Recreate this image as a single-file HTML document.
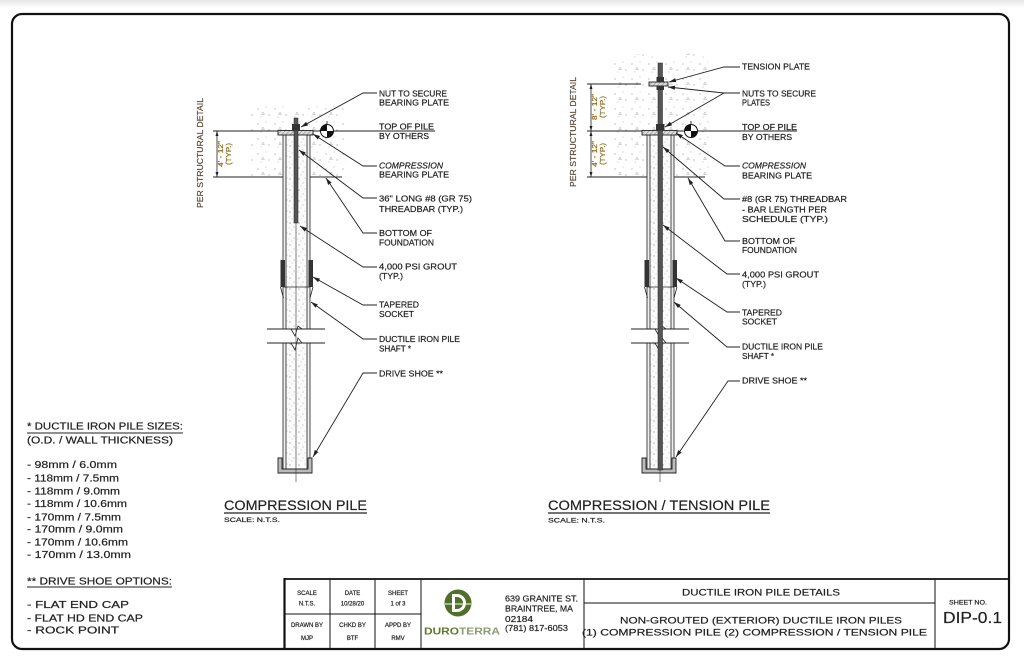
<!DOCTYPE html>
<html>
<head>
<meta charset="utf-8">
<style>
html,body{margin:0;padding:0;background:#fff;}
svg{display:block;}
text{font-family:"Liberation Sans",sans-serif;fill:#222;stroke:#222;stroke-width:0.2;}
</style>
</head>
<body>
<svg width="1024" height="663" viewBox="0 0 1024 663" xmlns="http://www.w3.org/2000/svg">
<defs>
  <linearGradient id="topg" x1="0" y1="0" x2="0" y2="1">
    <stop offset="0" stop-color="#e6e6e6"/>
    <stop offset="1" stop-color="#ffffff"/>
  </linearGradient>
  <pattern id="grout" width="9" height="11" patternUnits="userSpaceOnUse">
    <rect width="9" height="11" fill="#fbfbfb"/>
    <circle cx="2" cy="3" r="0.6" fill="#888"/>
    <circle cx="6" cy="7" r="0.55" fill="#999"/>
    <circle cx="4" cy="10" r="0.45" fill="#aaa"/>
    <circle cx="8" cy="2" r="0.45" fill="#aaa"/>
    <circle cx="1" cy="8" r="0.4" fill="#999"/>
  </pattern>
  <pattern id="conc" width="17" height="15" patternUnits="userSpaceOnUse">
    <circle cx="3" cy="4" r="0.6" fill="#999"/>
    <circle cx="11" cy="2" r="0.5" fill="#aaa"/>
    <circle cx="14" cy="10" r="0.6" fill="#999"/>
    <circle cx="6" cy="12" r="0.5" fill="#aaa"/>
    <path d="M8 7 l1.5 2.5 h-3z" fill="none" stroke="#aaa" stroke-width="0.5"/>
  </pattern>
  <pattern id="hatch" width="3" height="3" patternUnits="userSpaceOnUse" patternTransform="rotate(45)">
    <rect width="3" height="3" fill="#ddd"/>
    <line x1="0" y1="0" x2="0" y2="3" stroke="#666" stroke-width="0.8"/>
  </pattern>
  <marker id="ar" viewBox="0 0 10 10" refX="10" refY="5" markerWidth="7" markerHeight="7" orient="auto" markerUnits="userSpaceOnUse">
    <path d="M0,2 L10,5 L0,8z" fill="#222"/>
  </marker>
  <marker id="dt" viewBox="0 0 10 10" refX="10" refY="5" markerWidth="5" markerHeight="5" orient="auto-start-reverse" markerUnits="userSpaceOnUse">
    <path d="M0,2 L10,5 L0,8z" fill="#222"/>
  </marker>

  <g id="pile">
    <rect x="286" y="135" width="21" height="194" fill="url(#grout)"/>
    <rect x="286" y="343" width="21" height="126" fill="url(#grout)"/>
    <rect x="283" y="135" width="3" height="194" fill="#eee" stroke="#222" stroke-width="0.8"/>
    <rect x="307" y="135" width="3" height="194" fill="#eee" stroke="#222" stroke-width="0.8"/>
    <rect x="283" y="343" width="3" height="126" fill="#eee" stroke="#222" stroke-width="0.8"/>
    <rect x="307" y="343" width="3" height="126" fill="#eee" stroke="#222" stroke-width="0.8"/>
    <rect x="280.5" y="260" width="4.5" height="27" fill="#333"/>
    <rect x="308.5" y="260" width="4.5" height="27" fill="#333"/>
    <path d="M280.5 287 L283.5 298 M313 287 L310 298" stroke="#222" stroke-width="0.8" fill="none"/>
    <line x1="283" y1="287" x2="310" y2="287" stroke="#222" stroke-width="0.8"/>
    <rect x="266" y="329" width="60" height="14" fill="#fff"/>
    <line x1="267" y1="329" x2="325" y2="329" stroke="#222" stroke-width="0.9"/>
    <line x1="267" y1="343" x2="325" y2="343" stroke="#222" stroke-width="0.9"/>
    <path d="M291 329 L295 336 L298 326 L302 329" stroke="#222" stroke-width="0.8" fill="none"/>
    <path d="M291 343 L295 350 L298 338 L302 343" stroke="#222" stroke-width="0.8" fill="none"/>
    <path d="M278 458 V473 H312 V458 H308 V469 H282 V458 Z" fill="#bbb" stroke="#222" stroke-width="0.9"/>
    <line x1="296" y1="118" x2="296" y2="482" stroke="#333" stroke-width="0.6"/>
    <rect x="278" y="130.5" width="35" height="4.5" fill="url(#hatch)" stroke="#222" stroke-width="0.9"/>
  </g>

  <g id="marker">
    <circle cx="0" cy="0" r="6.5" fill="#fff" stroke="#111" stroke-width="1"/>
    <path d="M0 0 L-6.5 0 A6.5 6.5 0 0 1 0 -6.5 Z" fill="#111"/>
    <path d="M0 0 L6.5 0 A6.5 6.5 0 0 1 0 6.5 Z" fill="#111"/>
    <line x1="0" y1="-10" x2="0" y2="-6.5" stroke="#111" stroke-width="0.8"/>
  </g>
</defs>

<rect x="0" y="0" width="1024" height="663" fill="#fff"/>
<rect x="0" y="0" width="1024" height="8" fill="url(#topg)"/>

<rect x="12" y="14" width="997" height="635" rx="10" ry="10" fill="none" stroke="#111" stroke-width="2.2"/>

<!-- LEFT PILE -->
<path d="M250 110 L275 104 L300 112 L322 103 L345 108 L346 177 L250 177 Z" fill="url(#conc)"/>
<line x1="213" y1="131" x2="435" y2="131" stroke="#222" stroke-width="0.9"/>
<line x1="213" y1="177" x2="283" y2="177" stroke="#222" stroke-width="0.9"/>
<line x1="310" y1="177" x2="342" y2="177" stroke="#222" stroke-width="0.9"/>
<line x1="217" y1="131" x2="217" y2="177" stroke="#222" stroke-width="0.8" marker-start="url(#dt)" marker-end="url(#dt)"/>
<use href="#pile"/>
<rect x="294" y="118" width="4" height="105" fill="#555" stroke="#222" stroke-width="0.5"/>
<rect x="292" y="124" width="8" height="6.5" fill="#333"/>
<use href="#marker" x="327" y="131"/>

<text transform="translate(203,153) rotate(-90)" text-anchor="middle" font-size="8.5" textLength="110" lengthAdjust="spacingAndGlyphs" style="fill:#5a4a3a;stroke:#5a4a3a">PER STRUCTURAL DETAIL</text>
<text transform="translate(223,154) rotate(-90)" text-anchor="middle" font-size="7" textLength="26" lengthAdjust="spacingAndGlyphs" style="fill:#8a6a1a;stroke:#8a6a1a">4' - 12"</text>
<text transform="translate(231,154) rotate(-90)" text-anchor="middle" font-size="7" textLength="22" lengthAdjust="spacingAndGlyphs" style="fill:#8a6a1a;stroke:#8a6a1a">(TYP.)</text>

<g stroke="#222" stroke-width="0.9" fill="none">
  <path d="M377 93 H363 L301 127" marker-end="url(#ar)"/>
  <path d="M377 166 H363 L313 134" marker-end="url(#ar)"/>
  <path d="M377 198 H363 L299 150" marker-end="url(#ar)"/>
  <path d="M377 233 H363 L326 178" marker-end="url(#ar)"/>
  <path d="M377 267 H363 L300 226" marker-end="url(#ar)"/>
  <path d="M377 305 H363 L313 277" marker-end="url(#ar)"/>
  <path d="M377 339 H363 L311 302" marker-end="url(#ar)"/>
  <path d="M377 373 H363 L313 457" marker-end="url(#ar)"/>
</g>
<g font-size="8.5">
  <text x="379" y="96.3" textLength="68" lengthAdjust="spacingAndGlyphs">NUT TO SECURE</text>
  <text x="379" y="105.7" textLength="70" lengthAdjust="spacingAndGlyphs">BEARING PLATE</text>
  <text x="379" y="129.7" textLength="55" lengthAdjust="spacingAndGlyphs">TOP OF PILE</text>
  <text x="379" y="139" textLength="50" lengthAdjust="spacingAndGlyphs">BY OTHERS</text>
  <text x="379" y="168.3" textLength="64" lengthAdjust="spacingAndGlyphs" font-style="italic">COMPRESSION</text>
  <text x="379" y="177.7" textLength="70" lengthAdjust="spacingAndGlyphs">BEARING PLATE</text>
  <text x="379" y="201.3" textLength="93" lengthAdjust="spacingAndGlyphs">36" LONG #8 (GR 75)</text>
  <text x="379" y="212" textLength="84" lengthAdjust="spacingAndGlyphs">THREADBAR (TYP.)</text>
  <text x="379" y="236" textLength="53" lengthAdjust="spacingAndGlyphs">BOTTOM OF</text>
  <text x="379" y="245.3" textLength="55" lengthAdjust="spacingAndGlyphs">FOUNDATION</text>
  <text x="379" y="269.7" textLength="78" lengthAdjust="spacingAndGlyphs">4,000 PSI GROUT</text>
  <text x="379" y="279" textLength="24" lengthAdjust="spacingAndGlyphs">(TYP.)</text>
  <text x="379" y="307.3" textLength="40" lengthAdjust="spacingAndGlyphs">TAPERED</text>
  <text x="379" y="317" textLength="35" lengthAdjust="spacingAndGlyphs">SOCKET</text>
  <text x="379" y="342" textLength="81" lengthAdjust="spacingAndGlyphs">DUCTILE IRON PILE</text>
  <text x="379" y="351.3" textLength="32" lengthAdjust="spacingAndGlyphs">SHAFT *</text>
  <text x="379" y="376.3" textLength="64" lengthAdjust="spacingAndGlyphs">DRIVE SHOE **</text>
</g>
<text x="224" y="510" font-size="14" textLength="143" lengthAdjust="spacingAndGlyphs">COMPRESSION PILE</text>
<line x1="224" y1="513" x2="367" y2="513" stroke="#222" stroke-width="1.2"/>
<text x="224" y="522" font-size="6.5" textLength="56" lengthAdjust="spacingAndGlyphs">SCALE: N.T.S.</text>

<!-- RIGHT PILE -->
<path d="M610 60 L640 54 L665 58 L690 53 L708 57 L709 177 L610 177 Z" fill="url(#conc)"/>
<line x1="587" y1="131" x2="797" y2="131" stroke="#222" stroke-width="0.9"/>
<line x1="587" y1="84" x2="641" y2="84" stroke="#222" stroke-width="0.9"/>
<line x1="587" y1="177" x2="647" y2="177" stroke="#222" stroke-width="0.9"/>
<line x1="674" y1="177" x2="705" y2="177" stroke="#222" stroke-width="0.9"/>
<line x1="591" y1="84" x2="591" y2="131" stroke="#222" stroke-width="0.8" marker-start="url(#dt)" marker-end="url(#dt)"/>
<line x1="591" y1="131" x2="591" y2="177" stroke="#222" stroke-width="0.8" marker-start="url(#dt)" marker-end="url(#dt)"/>
<use href="#pile" x="364"/>
<rect x="658" y="63" width="4.5" height="407" fill="#555" stroke="#222" stroke-width="0.5"/>
<rect x="649" y="82" width="19" height="4" fill="url(#hatch)" stroke="#222" stroke-width="0.9"/>
<rect x="656.5" y="77" width="7.5" height="5" fill="#333"/>
<rect x="656.5" y="86" width="7.5" height="4" fill="#333"/>
<rect x="656" y="124" width="8.5" height="6.5" fill="#333"/>
<use href="#marker" x="691" y="131"/>

<text transform="translate(576,132) rotate(-90)" text-anchor="middle" font-size="8.5" textLength="110" lengthAdjust="spacingAndGlyphs" style="fill:#5a4a3a;stroke:#5a4a3a">PER STRUCTURAL DETAIL</text>
<text transform="translate(597,107) rotate(-90)" text-anchor="middle" font-size="7" textLength="26" lengthAdjust="spacingAndGlyphs" style="fill:#8a6a1a;stroke:#8a6a1a">8' - 12"</text>
<text transform="translate(605,107) rotate(-90)" text-anchor="middle" font-size="7" textLength="22" lengthAdjust="spacingAndGlyphs" style="fill:#8a6a1a;stroke:#8a6a1a">(TYP.)</text>
<text transform="translate(597,154) rotate(-90)" text-anchor="middle" font-size="7" textLength="26" lengthAdjust="spacingAndGlyphs" style="fill:#8a6a1a;stroke:#8a6a1a">4' - 12"</text>
<text transform="translate(605,154) rotate(-90)" text-anchor="middle" font-size="7" textLength="22" lengthAdjust="spacingAndGlyphs" style="fill:#8a6a1a;stroke:#8a6a1a">(TYP.)</text>

<g stroke="#222" stroke-width="0.9" fill="none">
  <path d="M740 67 H724 L669 82" marker-end="url(#ar)"/>
  <path d="M740 93 H724 L668 87" marker-end="url(#ar)"/>
  <path d="M724 93 L665 127" marker-end="url(#ar)"/>
  <path d="M740 166 H725 L676 133" marker-end="url(#ar)"/>
  <path d="M740 199 H724 L663 147" marker-end="url(#ar)"/>
  <path d="M740 241 H725 L688 178" marker-end="url(#ar)"/>
  <path d="M740 274 H727 L663 225" marker-end="url(#ar)"/>
  <path d="M740 312 H727 L676 278" marker-end="url(#ar)"/>
  <path d="M740 347 H727 L674 302" marker-end="url(#ar)"/>
  <path d="M740 381 H728 L676 457" marker-end="url(#ar)"/>
</g>
<g font-size="8.5">
  <text x="742" y="69.7" textLength="68" lengthAdjust="spacingAndGlyphs">TENSION PLATE</text>
  <text x="742" y="96.3" textLength="74" lengthAdjust="spacingAndGlyphs">NUTS TO SECURE</text>
  <text x="742" y="105.3" textLength="28" lengthAdjust="spacingAndGlyphs">PLATES</text>
  <text x="742" y="130" textLength="55" lengthAdjust="spacingAndGlyphs">TOP OF PILE</text>
  <text x="742" y="140" textLength="50" lengthAdjust="spacingAndGlyphs">BY OTHERS</text>
  <text x="742" y="168.7" textLength="64" lengthAdjust="spacingAndGlyphs" font-style="italic">COMPRESSION</text>
  <text x="742" y="178.3" textLength="70" lengthAdjust="spacingAndGlyphs">BEARING PLATE</text>
  <text x="742" y="202" textLength="105" lengthAdjust="spacingAndGlyphs">#8 (GR 75) THREADBAR</text>
  <text x="742" y="212.3" textLength="85" lengthAdjust="spacingAndGlyphs">- BAR LENGTH PER</text>
  <text x="742" y="222" textLength="86" lengthAdjust="spacingAndGlyphs">SCHEDULE (TYP.)</text>
  <text x="742" y="244" textLength="53" lengthAdjust="spacingAndGlyphs">BOTTOM OF</text>
  <text x="742" y="253" textLength="55" lengthAdjust="spacingAndGlyphs">FOUNDATION</text>
  <text x="742" y="277.3" textLength="77" lengthAdjust="spacingAndGlyphs">4,000 PSI GROUT</text>
  <text x="742" y="287" textLength="24" lengthAdjust="spacingAndGlyphs">(TYP.)</text>
  <text x="742" y="315.3" textLength="40" lengthAdjust="spacingAndGlyphs">TAPERED</text>
  <text x="742" y="324.7" textLength="35" lengthAdjust="spacingAndGlyphs">SOCKET</text>
  <text x="742" y="349.7" textLength="81" lengthAdjust="spacingAndGlyphs">DUCTILE IRON PILE</text>
  <text x="742" y="359" textLength="32" lengthAdjust="spacingAndGlyphs">SHAFT *</text>
  <text x="742" y="383.7" textLength="65" lengthAdjust="spacingAndGlyphs">DRIVE SHOE **</text>
</g>
<text x="548" y="510" font-size="14" textLength="222" lengthAdjust="spacingAndGlyphs">COMPRESSION / TENSION PILE</text>
<line x1="548" y1="513" x2="770" y2="513" stroke="#222" stroke-width="1.2"/>
<text x="548" y="522.5" font-size="6.5" textLength="57" lengthAdjust="spacingAndGlyphs">SCALE: N.T.S.</text>

<!-- NOTES -->
<g font-size="10">
  <text x="27" y="429.6" textLength="156" lengthAdjust="spacingAndGlyphs">* DUCTILE IRON PILE SIZES:</text>
  <line x1="27" y1="433" x2="183" y2="433" stroke="#222" stroke-width="1"/>
  <text x="27" y="443.6" textLength="146" lengthAdjust="spacingAndGlyphs">(O.D. / WALL THICKNESS)</text>
  <text x="27" y="467.9" textLength="90" lengthAdjust="spacingAndGlyphs">- 98mm / 6.0mm</text>
  <text x="27" y="481.3" textLength="92" lengthAdjust="spacingAndGlyphs">- 118mm / 7.5mm</text>
  <text x="27" y="494.6" textLength="93" lengthAdjust="spacingAndGlyphs">- 118mm / 9.0mm</text>
  <text x="27" y="506.9" textLength="100" lengthAdjust="spacingAndGlyphs">- 118mm / 10.6mm</text>
  <text x="27" y="520.3" textLength="94" lengthAdjust="spacingAndGlyphs">- 170mm / 7.5mm</text>
  <text x="27" y="532.6" textLength="96" lengthAdjust="spacingAndGlyphs">- 170mm / 9.0mm</text>
  <text x="27" y="545.3" textLength="101" lengthAdjust="spacingAndGlyphs">- 170mm / 10.6mm</text>
  <text x="27" y="557.9" textLength="104" lengthAdjust="spacingAndGlyphs">- 170mm / 13.0mm</text>
  <text x="27" y="584.3" textLength="145" lengthAdjust="spacingAndGlyphs">** DRIVE SHOE OPTIONS:</text>
  <line x1="27" y1="587" x2="172" y2="587" stroke="#222" stroke-width="1"/>
  <text x="27" y="607.9" textLength="102" lengthAdjust="spacingAndGlyphs">- FLAT END CAP</text>
  <text x="27" y="621.3" textLength="116" lengthAdjust="spacingAndGlyphs">- FLAT HD END CAP</text>
  <text x="27" y="633.6" textLength="92" lengthAdjust="spacingAndGlyphs">- ROCK POINT</text>
</g>

<!-- TITLE BLOCK -->
<g stroke="#111" fill="none">
  <line x1="284" y1="579" x2="1009" y2="579" stroke-width="1.8"/>
  <line x1="284.5" y1="578" x2="284.5" y2="649" stroke-width="2.2"/>
  <line x1="330" y1="579" x2="330" y2="649" stroke-width="1"/>
  <line x1="375" y1="579" x2="375" y2="649" stroke-width="1"/>
  <line x1="421" y1="579" x2="421" y2="649" stroke-width="1"/>
  <line x1="284" y1="614" x2="421" y2="614" stroke-width="1"/>
  <line x1="584" y1="579" x2="584" y2="649" stroke-width="1"/>
  <line x1="584" y1="603" x2="935" y2="603" stroke-width="1"/>
  <line x1="935" y1="579" x2="935" y2="649" stroke-width="1"/>
</g>
<g font-size="6" text-anchor="middle">
  <text x="307" y="595">SCALE</text>
  <text x="307" y="605.5">N.T.S.</text>
  <text x="352.5" y="595">DATE</text>
  <text x="352.5" y="605.5">10/28/20</text>
  <text x="398" y="595">SHEET</text>
  <text x="398" y="605.5">1 of 3</text>
  <text x="307" y="627">DRAWN BY</text>
  <text x="307" y="640">MJP</text>
  <text x="352.5" y="627">CHKD BY</text>
  <text x="352.5" y="640">BTF</text>
  <text x="398" y="627">APPD BY</text>
  <text x="398" y="640">RMV</text>
</g>
<circle cx="458" cy="603" r="13.5" fill="#4f6f2a"/>
<path d="M452 594 H457 A9 9 0 0 1 457 612 H452 Z" fill="#fff"/>
<path d="M455 597 H457 A6 6 0 0 1 457 609 H455 Z" fill="#4f6f2a"/>
<line x1="445" y1="604" x2="471" y2="604" stroke="#fff" stroke-width="1"/>
<text x="424" y="634.5" font-size="10" font-weight="bold" textLength="76" lengthAdjust="spacingAndGlyphs" style="stroke:none"><tspan style="fill:#5d7a2e">DURO</tspan><tspan style="fill:#8d9a72">TERRA</tspan></text>
<g font-size="8.5">
  <text x="505" y="601.5" textLength="73" lengthAdjust="spacingAndGlyphs">639 GRANITE ST.</text>
  <text x="505" y="611.5" textLength="68" lengthAdjust="spacingAndGlyphs">BRAINTREE, MA</text>
  <text x="505" y="622" textLength="28" lengthAdjust="spacingAndGlyphs">02184</text>
  <text x="505" y="631" textLength="63" lengthAdjust="spacingAndGlyphs">(781) 817-6053</text>
</g>
<g font-size="9.3">
  <text x="682" y="595.3" textLength="158" lengthAdjust="spacingAndGlyphs">DUCTILE IRON PILE DETAILS</text>
  <text x="620" y="623.3" textLength="282" lengthAdjust="spacingAndGlyphs">NON-GROUTED (EXTERIOR) DUCTILE IRON PILES</text>
  <text x="582" y="635.3" textLength="345" lengthAdjust="spacingAndGlyphs">(1) COMPRESSION PILE (2) COMPRESSION / TENSION PILE</text>
</g>
<text x="949" y="604.5" font-size="6" textLength="38" lengthAdjust="spacingAndGlyphs">SHEET NO.</text>
<text x="943" y="623" font-size="16" textLength="59" lengthAdjust="spacingAndGlyphs">DIP-0.1</text>
</svg>
</body>
</html>
